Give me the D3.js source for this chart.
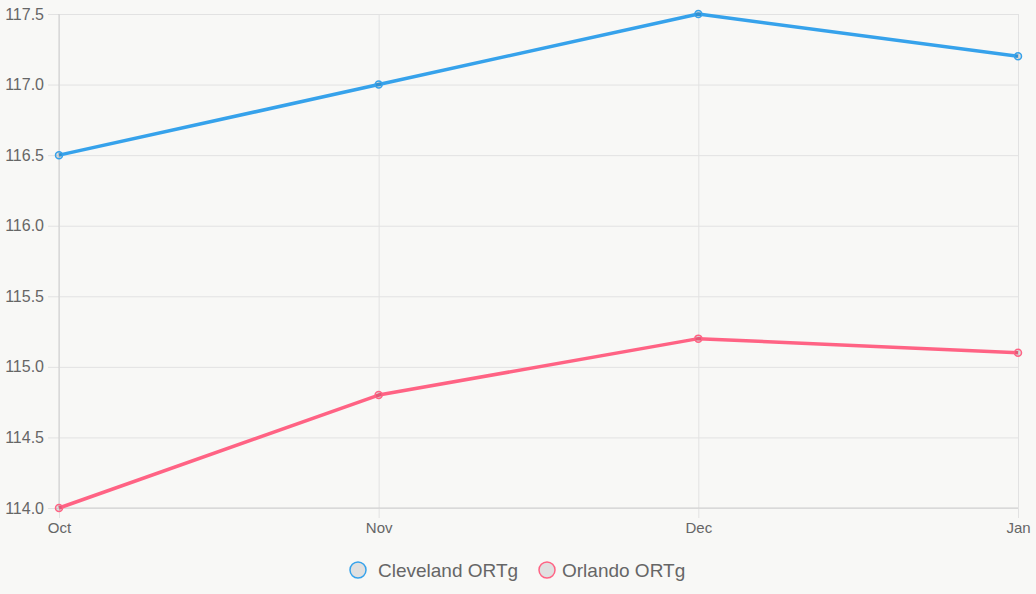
<!DOCTYPE html>
<html lang="en">
<head>
  <meta charset="UTF-8" />
  <title>Cleveland vs Orlando ORTg</title>
  <script src="https://d3js.org/d3.v7.min.js"></script>
  <style>
    body {
      margin: 0;
      background: #f8f8f6;
      font-family: "Liberation Sans", Arial, sans-serif;
    }
    svg { display: block; }
  </style>
</head>
<body>
  <svg id="chart"></svg>

  <script>
    const months = ["Oct", "Nov", "Dec", "Jan"];
    const clevelandORTg = [116.5, 117.0, 117.5, 117.2];
    const orlandoORTg = [114.0, 114.8, 115.2, 115.1];
    const yTicks = [114.0, 114.5, 115.0, 115.5, 116.0, 116.5, 117.0, 117.5];

    const series = [
      { name: "Cleveland ORTg", values: clevelandORTg, color: "#36a2eb" },
      { name: "Orlando ORTg", values: orlandoORTg, color: "#ff6384" }
    ];

    const W = 1036, H = 594;
    const margin = { top: 14, right: 18, bottom: 86, left: 59 };
    const width = W - margin.left - margin.right;
    const height = H - margin.top - margin.bottom;

    const svg = d3.select("#chart").attr("width", W).attr("height", H);
    const g = svg.append("g").attr("transform", `translate(${margin.left},${margin.top})`);

    const x = d3.scalePoint().domain(months).range([0, width]);
    const y = d3.scaleLinear().domain([114, 117.5]).range([height, 0]);

    // horizontal grid + y labels
    const yAxis = g.append("g")
      .call(d3.axisLeft(y).tickValues(yTicks).tickSize(-width).tickFormat(d3.format(".1f")));
    yAxis.select(".domain").remove();
    yAxis.selectAll(".tick line")
      .attr("x1", -11)
      .attr("stroke", "#e2e2e2");
    yAxis.selectAll(".tick text")
      .attr("fill", "#666")
      .attr("font-size", "16px")
      .attr("font-family", "Liberation Sans, Arial, sans-serif")
      .attr("x", -15);

    // vertical grid + x labels
    const xAxis = g.append("g")
      .attr("transform", `translate(0,${height})`)
      .call(d3.axisBottom(x).tickSize(-height).tickPadding(14));
    xAxis.select(".domain").remove();
    xAxis.selectAll(".tick line")
      .attr("y1", 10)
      .attr("stroke", "#e2e2e2");
    xAxis.selectAll(".tick text")
      .attr("fill", "#666")
      .attr("font-size", "15px")
      .attr("font-family", "Liberation Sans, Arial, sans-serif");

    // axis lines
    g.append("line")
      .attr("x1", 0).attr("x2", 0).attr("y1", 0).attr("y2", height)
      .attr("stroke", "#cfcfcf");
    g.append("line")
      .attr("x1", 0).attr("x2", width).attr("y1", height).attr("y2", height)
      .attr("stroke", "#cfcfcf");

    const line = d3.line()
      .x((d, i) => x(months[i]))
      .y(d => y(d));

    series.forEach(s => {
      g.append("path")
        .datum(s.values)
        .attr("fill", "none")
        .attr("stroke", s.color)
        .attr("stroke-width", 3.5)
        .attr("stroke-linejoin", "round")
        .attr("d", line);

      g.selectAll(null)
        .data(s.values)
        .join("circle")
        .attr("cx", (d, i) => x(months[i]))
        .attr("cy", d => y(d))
        .attr("r", 3.5)
        .attr("fill", "rgba(0,0,0,0.1)")
        .attr("stroke", s.color)
        .attr("stroke-width", 1.5);
    });

    // legend
    const legend = svg.append("g").attr("transform", `translate(0, 570)`);
    const legendItems = [{ cx: 358, tx: 378 }, { cx: 547, tx: 562 }];
    series.forEach((s, i) => {
      legend.append("circle")
        .attr("cx", legendItems[i].cx)
        .attr("cy", 0)
        .attr("r", 8)
        .attr("fill", "#e0e0e0")
        .attr("stroke", s.color)
        .attr("stroke-width", 1.5);
      legend.append("text")
        .attr("x", legendItems[i].tx)
        .attr("y", 0)
        .attr("dy", "0.35em")
        .attr("fill", "#666")
        .attr("font-size", "19px")
        .text(s.name);
    });
  </script>
</body>
</html>
